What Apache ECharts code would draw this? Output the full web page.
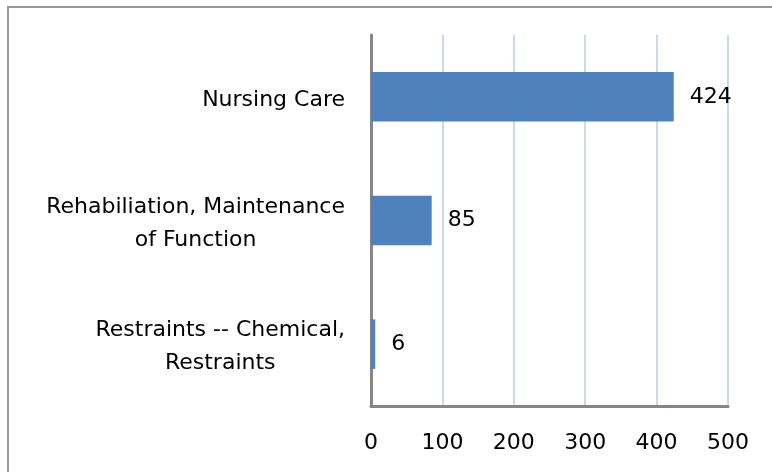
<!DOCTYPE html>
<html>
<head>
<meta charset="utf-8">
<script src="https://cdn.jsdelivr.net/npm/echarts@6/dist/echarts.min.js"></script>
<style>
  html, body { margin: 0; padding: 0; background: #fff; }
  #frame { position: absolute; left: 7px; top: 6px; width: 800px; height: 500px;
           border-left: 2px solid #999; border-top: 2px solid #999; }
  #chart { position: absolute; left: 0; top: 0; width: 772px; height: 472px; }
</style>
</head>
<body>
<div id="frame"></div>
<div id="chart"></div>
<script>
// data
var categories = ['Restraints -- Chemical,\nRestraints', 'Rehabiliation, Maintenance\nof Function', 'Nursing Care'];
var counts = [6, 85, 424];
var ticks = [0, 100, 200, 300, 400, 500];

var font = 'DejaVu Sans';
var myChart = echarts.init(document.getElementById('chart'));
myChart.setOption({
    animation: false,
    grid: { left: 371, right: 44, top: 35, bottom: 66 },
    xAxis: {
        type: 'value',
        min: ticks[0],
        max: ticks[ticks.length - 1],
        interval: 100,
        axisLine: { show: true, lineStyle: { color: '#868686', width: 3 } },
        axisTick: { show: false },
        axisLabel: { margin: 26, fontSize: 22, color: '#000', fontFamily: font },
        splitLine: { lineStyle: { color: '#b9cde5', width: 1.5 } }
    },
    yAxis: {
        type: 'category',
        data: categories,
        axisLine: { show: true, lineStyle: { color: '#868686', width: 3 } },
        axisTick: { show: false },
        axisLabel: {
            margin: 26,
            fontSize: 22,
            color: '#000',
            fontFamily: font,
            lineHeight: 33,
            padding: [6, 0, 0, 0],
            formatter: function (v) {
                return v.split('\n').map(function (s) { return '{c|' + s + '}'; }).join('\n');
            },
            rich: { c: { align: 'center', fontSize: 22, lineHeight: 33, fontFamily: font, color: '#000' } }
        }
    },
    series: [{
        type: 'bar',
        data: counts,
        barWidth: '40%',
        itemStyle: { color: '#4f81bd' },
        label: {
            show: true,
            position: 'right',
            distance: 16,
            fontSize: 22,
            color: '#000',
            fontFamily: font,
            padding: [5, 0, 0, 0]
        }
    }]
});
</script>
</body>
</html>
